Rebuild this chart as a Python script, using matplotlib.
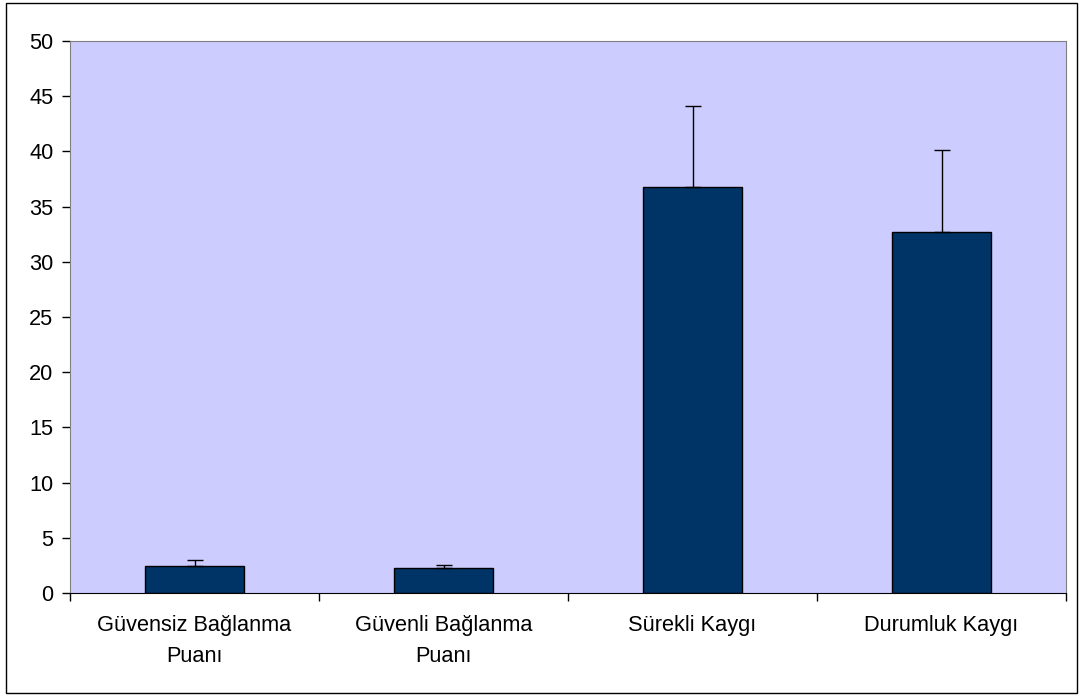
import numpy as np
import matplotlib.pyplot as plt
from matplotlib.patches import Rectangle

plt.rcParams['font.family'] = ['Liberation Sans', 'DejaVu Sans']

# data
categories = ['Güvensiz Bağlanma\nPuanı', 'Güvenli Bağlanma\nPuanı', 'Sürekli Kaygı', 'Durumluk Kaygı']
means = [2.45, 2.3, 36.8, 32.7]
errors = [0.5, 0.25, 7.3, 7.4]

fig = plt.figure(figsize=(10.85, 6.98), dpi=100)
ax = fig.add_axes([70/1085, 1 - 593/698, 996/1085, 552/698])

x = np.arange(len(categories))
ax.bar(x, means, width=0.4, color='#003366', edgecolor='black', linewidth=1, zorder=2)
ax.errorbar(x, means, yerr=[np.zeros(len(errors)), errors], fmt='none',
            ecolor='black', elinewidth=1, capsize=6, capthick=1, zorder=3)

ax.set_facecolor('#CCCCFF')
ax.set_xlim(-0.5, len(categories) - 0.5)
ax.set_ylim(0, 50)
ax.set_yticks(np.arange(0, 51, 5))
ax.set_xticks(x)
ax.set_xticklabels(categories, fontsize=15.7, linespacing=1.6)
ax.set_xticks(np.arange(-0.5, len(categories)), minor=True)
ax.tick_params(axis='x', which='major', length=0, pad=16)
ax.tick_params(axis='x', which='minor', length=6, width=1, color='black')
ax.tick_params(axis='y', length=6, width=1, labelsize=15.7, pad=6, color='black')

for s in ['top', 'right', 'left']:
    ax.spines[s].set_color('#808080')
ax.spines['bottom'].set_color('black')

fig.add_artist(Rectangle((6/1085, 1 - 693/698), 1071/1085, 690/698,
                         transform=fig.transFigure, fill=False,
                         edgecolor='black', linewidth=1))

fig.savefig('out.png', dpi=100)
